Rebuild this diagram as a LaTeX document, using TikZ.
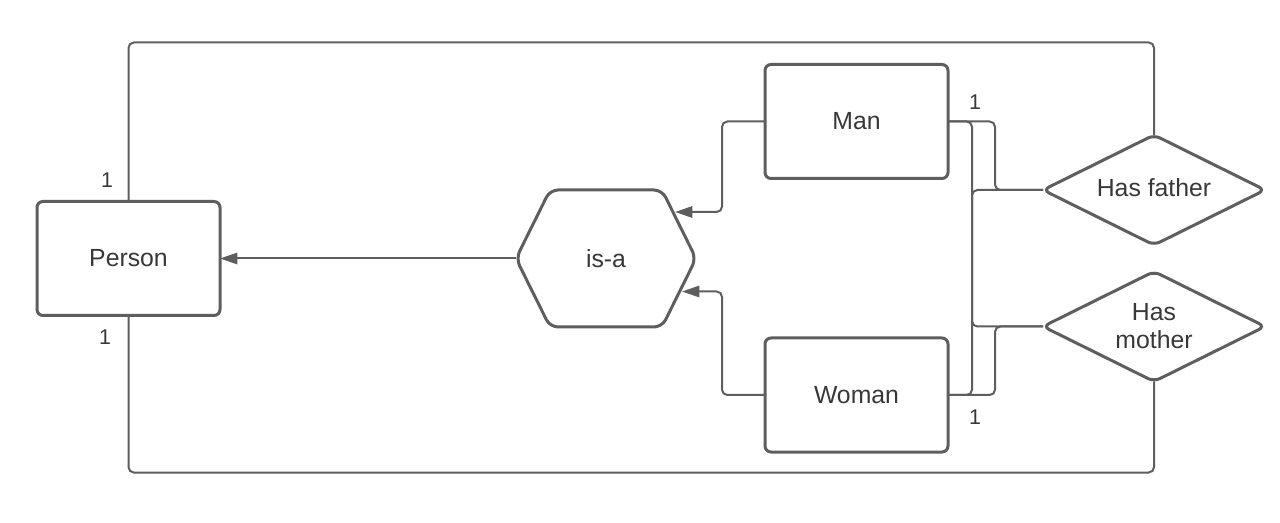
\documentclass[tikz,border=0pt]{standalone}
\usepackage{fontspec}
\setmainfont{Liberation Sans}
\usetikzlibrary{shapes.geometric,arrows.meta,calc}
\definecolor{ln}{HTML}{5E5E5E}
\definecolor{tx}{HTML}{383838}
\begin{document}
\begin{tikzpicture}[x=0.75pt,y=-0.75pt,
  ent/.style={draw=ln, line width=2.25pt, rounded corners=4.5pt, minimum width=137.25pt, minimum height=85.5pt, inner sep=0pt, outer sep=0pt, text=tx, font=\fontsize{18.6}{21.5}\selectfont},
  rel/.style={diamond, draw=ln, line width=2.25pt, rounded corners=5pt, minimum width=166.5pt, minimum height=82.5pt, inner sep=0pt, outer sep=0pt, aspect=2, text=tx, align=center, font=\fontsize{18.6}{21}\selectfont},
  conn/.style={draw=ln, line width=1.5pt, rounded corners=4pt},
  arr/.style={conn, -{Triangle[length=13pt,width=8.5pt]}},
  card/.style={text=tx, font=\fontsize{16}{19}\selectfont, inner sep=0pt}
]
\useasboundingbox (0,0) rectangle (1280,523);
\fill[white] (0,0) rectangle (1280,523);

\node[ent] (person) at (128.5,258.5) {Person};
\node[ent] (man) at (856.5,121.5) {Man};
\node[ent] (woman) at (856.5,395) {Woman};
\node[rel] (hf) at (1154,190) {Has father\vphantom{g}};
\node[rel] (hm) at (1154,326.5) {Has\\mother};

\node[minimum width=135pt, minimum height=102.75pt, inner sep=0pt, outer sep=0pt] (isa) at (606,258.5) {};
\draw[ln, line width=2.25pt, rounded corners=6pt]
  ($(isa.center)+(-90,0)$) -- ($(isa.center)+(-56,-68.5)$) -- ($(isa.center)+(56,-68.5)$)
  -- ($(isa.center)+(90,0)$) -- ($(isa.center)+(56,68.5)$) -- ($(isa.center)+(-56,68.5)$) -- cycle;
\node[text=tx, font=\fontsize{18.6}{21.5}\selectfont] at (isa.center) {is-a};

\coordinate (isaA) at ($(isa.center)+(69,-46.5)$);
\coordinate (isaB) at ($(isa.center)+(76,33)$);

\draw[arr] (isa.west) -- (person.east);
\draw[arr] (man.west) -- ++(-43,0) |- (isaA);
\draw[arr] (woman.west) -- ++(-43,0) |- (isaB);

\draw[conn] (person.north) -- ++(0,-159) -| (hf.north);
\draw[conn] (person.south) -- ++(0,157) -| (hm.south);

\draw[conn] (man.east) -- ++(47,0) |- (hf.west);
\draw[conn] (woman.east) -- ++(24,0) |- (hf.west);
\draw[conn] (man.east) -- ++(24,0) |- (hm.west);
\draw[conn] (woman.east) -- ++(47,0) |- (hm.west);

\node[card] (c1) at (107,180) {1};
\node[card] (c2) at (105,337) {1};
\node[card] (c3) at (975,102) {1};
\node[card] (c4) at (975,417) {1};
\end{tikzpicture}
\end{document}
